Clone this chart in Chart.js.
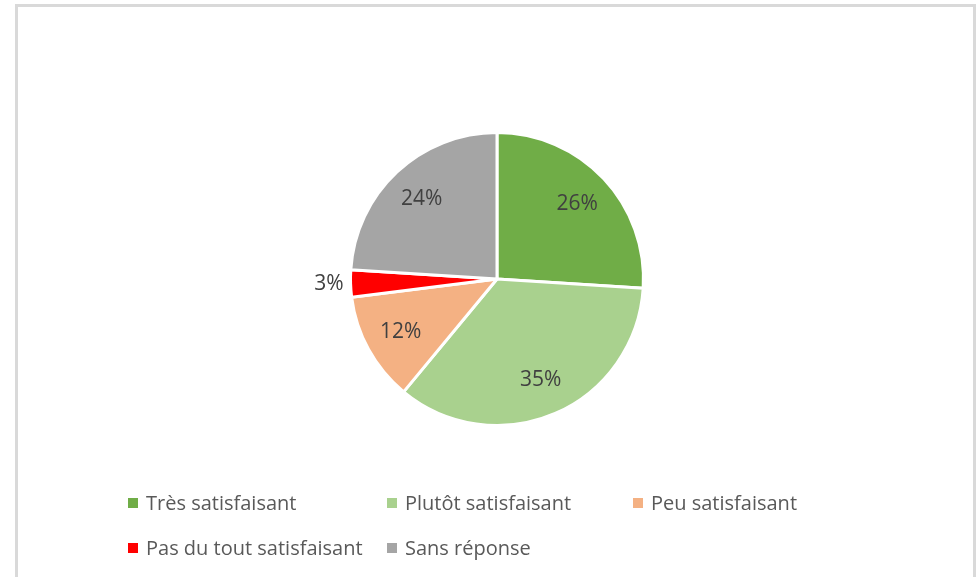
<!DOCTYPE html>
<html>
<head>
<meta charset="utf-8">
<script src="https://cdn.jsdelivr.net/npm/chart.js@4"></script>
<style>
  body { margin: 0; background: #fff; }
  #cadre {
    position: absolute; left: 15px; top: 4px; width: 961px; height: 600px;
    border: 3px solid #d9d9d9; border-bottom: none; box-sizing: border-box;
  }
  #graphe { position: absolute; left: 0; top: 0; width: 980px; height: 577px; }
  #legende {
    position: absolute; left: 128px; top: 489px;
    display: grid; grid-template-columns: 259px 246px auto; row-gap: 18px;
    font-family: "Open Sans", sans-serif; font-size: 20px; color: #595959;
  }
  .item { display: flex; align-items: center; height: 27px; white-space: nowrap; }
  .carre { width: 10px; height: 10px; margin-right: 8px; }
</style>
</head>
<body>
<div id="cadre"></div>
<div id="graphe"><canvas id="camembert"></canvas></div>
<div id="legende"></div>

<script>
"use strict";

const categories = ["Très satisfaisant", "Plutôt satisfaisant", "Peu satisfaisant", "Pas du tout satisfaisant", "Sans réponse"];
const pourcentages = [26, 35, 12, 3, 24];
const couleurs = ["#70ad47", "#a9d18e", "#f4b183", "#ff0000", "#a5a5a5"];

// étiquettes en % posées dans les parts (dehors pour les petites)
const etiquettes = {
  id: "etiquettes",
  afterDatasetsDraw(chart) {
    const ctx = chart.ctx;
    const arcs = chart.getDatasetMeta(0).data;
    ctx.save();
    ctx.font = '21px "Open Sans", sans-serif';
    ctx.fillStyle = "#404040";
    ctx.textBaseline = "middle";
    arcs.forEach((arc, i) => {
      const p = arc.getProps(["x", "y", "startAngle", "endAngle", "outerRadius"], true);
      const a = (p.startAngle + p.endAngle) / 2;
      let r = p.outerRadius * 0.75;
      ctx.textAlign = "center";
      if (pourcentages[i] < 5) {
        r = p.outerRadius + 7;
        ctx.textAlign = Math.cos(a) < 0 ? "right" : "left";
      }
      ctx.fillText(pourcentages[i] + "%", p.x + Math.cos(a) * r, p.y + Math.sin(a) * r);
    });
    ctx.restore();
  }
};

new Chart(document.getElementById("camembert"), {
  type: "pie",
  data: {
    labels: categories,
    datasets: [{
      data: pourcentages,
      backgroundColor: couleurs,
      borderColor: "#ffffff",
      borderWidth: 3
    }]
  },
  options: {
    responsive: true,
    maintainAspectRatio: false,
    animation: false,
    layout: { padding: { left: 349, right: 335, top: 131, bottom: 150 } },
    plugins: {
      legend: { display: false },
      tooltip: { enabled: false }
    }
  },
  plugins: [etiquettes]
});

// légende maison, même ordre que le graphique
const legende = document.getElementById("legende");
categories.forEach((nom, i) => {
  legende.innerHTML += `
    <div class="item"><span class="carre" style="background:${couleurs[i]}"></span>${nom}</div>
  `;
});
</script>
</body>
</html>
